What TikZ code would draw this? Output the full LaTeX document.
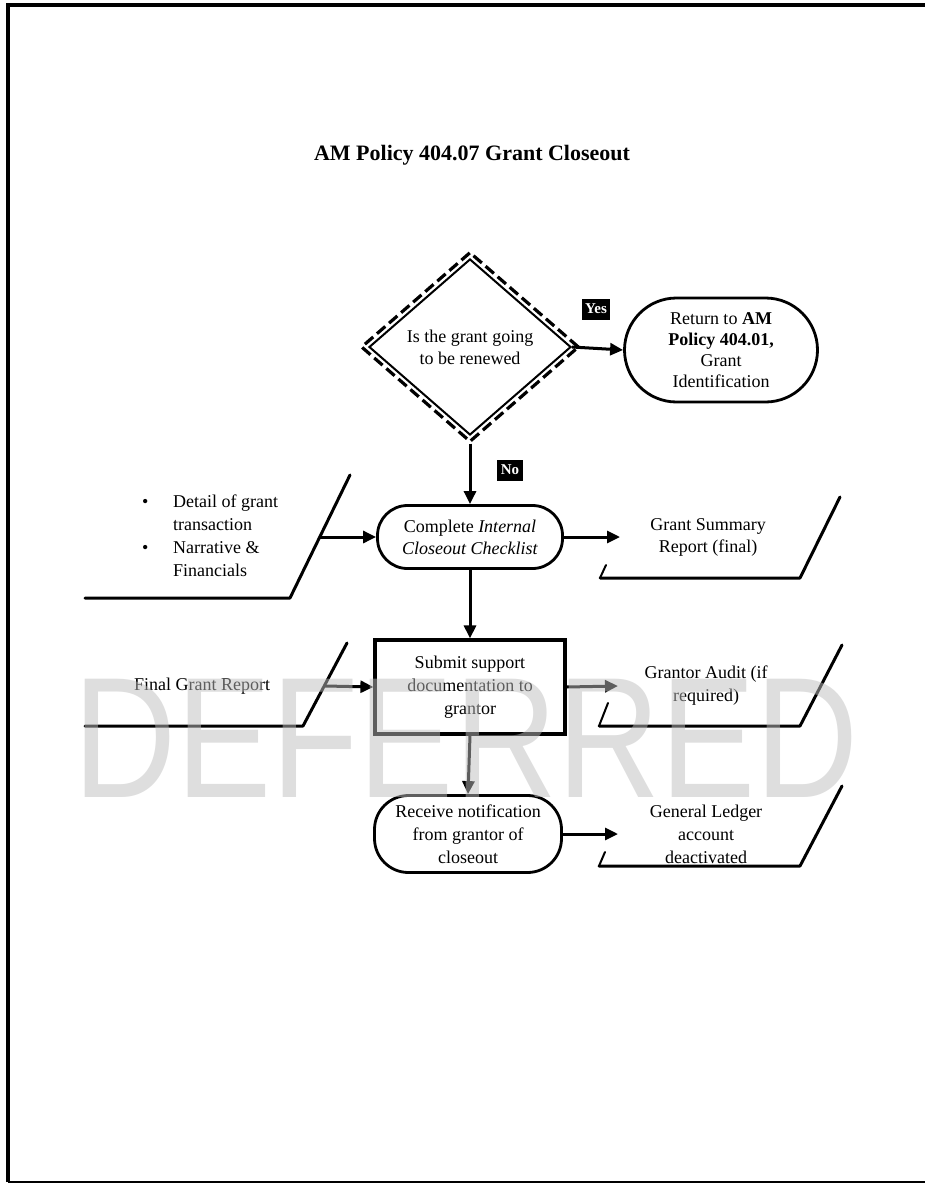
\documentclass[tikz,border=0pt]{standalone}
\usepackage{fontspec}
\usepackage{graphicx}
\setmainfont{Liberation Serif}
\newfontfamily\wmfont{Liberation Sans}
\usetikzlibrary{shapes.geometric,arrows.meta}
\begin{document}
\begin{tikzpicture}[x=1pt,y=-1pt,
  txt/.style={font=\fontsize{18}{22}\selectfont, align=center, inner sep=0pt},
  term/.style={draw, line width=2.8pt, font=\fontsize{18}{22}\selectfont, align=center},
  arr/.style={line width=3pt, -{Triangle[length=13pt,width=12pt]}},
  dline/.style={line width=3pt, line cap=round, line join=round},
  tick/.style={line width=2pt, line cap=round},
  tag/.style={fill=black, text=white, font=\fontsize{15}{15}\selectfont\bfseries, inner sep=3.5pt, minimum height=21pt}
]
\useasboundingbox (0,0) rectangle (925,1185);
% page border
\draw[line width=3.5pt] (8,1182) -- (8,5) -- (925,5);
\draw[line width=2pt] (8,1182) -- (925,1182);

% title
\node[font=\fontsize{22}{26}\selectfont\bfseries] (title) at (472,155) {AM Policy 404.07 Grant Closeout};

% decision
\node[diamond, draw, dashed, dash pattern=on 11pt off 5pt, line width=3.2pt, minimum width=218pt, minimum height=190pt, inner sep=0pt] (qo) at (470,347) {};
\node[diamond, draw, line width=2pt, minimum width=202pt, minimum height=176pt, inner sep=0pt, font=\fontsize{18}{22}\selectfont, align=center] (q) at (470,347) {Is the grant going\\to be renewed};

% return
\node[term, rounded corners=52pt, minimum width=193pt, minimum height=104pt, font=\fontsize{18}{21}\selectfont] (ret) at (721,350) {Return to \textbf{AM}\\\textbf{Policy 404.01,}\\Grant\\Identification};

% process nodes
\node[term, rounded corners=30pt, minimum width=185pt, minimum height=63pt] (comp) at (470,537) {Complete \textit{Internal}\\\textit{Closeout Checklist}};
\node[draw, line width=3.2pt, minimum width=190pt, minimum height=94pt, font=\fontsize{18}{23}\selectfont, align=center] (sub) at (470,687) {Submit support\\documentation to\\grantor};
\node[term, rounded corners=34pt, minimum width=187pt, minimum height=77pt, font=\fontsize{18}{23}\selectfont] (rec) at (468,834) {Receive notification\\from grantor of\\closeout};

% data text nodes
\node[anchor=west, font=\fontsize{18}{23}\selectfont, inner sep=0pt] (in1) at (142,537) {\begin{tabular}{@{}l@{}l@{}}\makebox[31pt][l]{\textbullet} & Detail of grant\\ & transaction\\\makebox[31pt][l]{\textbullet} & Narrative \&\\ & Financials\end{tabular}};
\node[txt] (gsr) at (708,537) {Grant Summary\\Report (final)};
\node[txt] (fgr) at (202,686) {Final Grant Report};
\node[txt, font=\fontsize{18}{23}\selectfont] (ga) at (706,686) {Grantor Audit (if\\required)};
\node[txt, font=\fontsize{18}{23}\selectfont] (gl) at (706,834) {General Ledger\\account\\deactivated};

% data shapes (open parallelograms)
\draw[dline] (85,598) -- (290,598) -- (350,475);
\draw[dline] (600,578) -- (800,578) -- (840,497);
\draw[tick] (600,578) -- (606,565);
\draw[dline] (85,726) -- (303,726) -- (347,643);
\draw[dline] (599,726) -- (800,726) -- (842,645);
\draw[tick] (599,726) -- (608,703);
\draw[dline] (599,866) -- (800,866) -- (842,786);
\draw[tick] (599,866) -- (605,852);

% connector end coordinates on the data shapes
\coordinate (in1s) at (320,537);
\coordinate (fgrs) at (325,686);
\coordinate (gsrs) at (620,537);
\coordinate (gas) at (618,686);
\coordinate (gls) at (618,834);

% connectors
\draw[arr] (q.east) -- (ret.west);
\draw[arr] (qo.south) -- (comp.north);
\draw[arr] (in1s) -- (comp.west);
\draw[arr] (comp.east) -- (gsrs);
\draw[arr] (comp.south) -- (sub.north);
\draw[arr] (fgrs) -- (sub.west);
\draw[arr] (sub.east) -- (gas);
\draw[arr] (sub.south) -- (rec.north);
\draw[arr] (rec.east) -- (gls);

% tags
\node[tag] (yes) at (596,309) {Yes};
\node[tag] (no) at (510,470) {No};

% watermark
\node[font=\wmfont\fontsize{172}{172}\selectfont, text=black!26, text opacity=0.5, inner sep=0pt] (wm) at (466,738) {\scalebox{0.83}[1]{DEFERRED}};
\end{tikzpicture}
\end{document}
